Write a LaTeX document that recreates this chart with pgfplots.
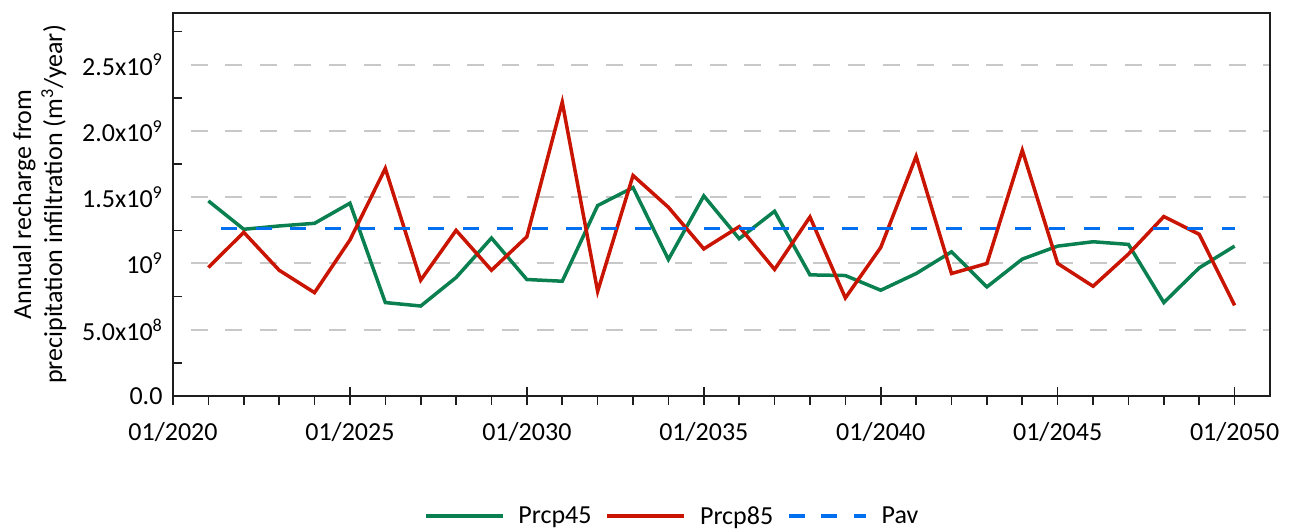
\documentclass[border=0pt]{standalone}
\usepackage{fontspec}
\setmainfont{Carlito}
\usepackage{pgfplots}
\usepackage{pgfplotstable}
\pgfplotsset{compat=1.18}
\definecolor{cgreen}{RGB}{10,128,80}
\definecolor{cred}{RGB}{200,20,0}
\definecolor{cblue}{RGB}{0,112,240}
\definecolor{cgrid}{RGB}{200,200,200}
\definecolor{caxis}{RGB}{30,30,30}
\pgfplotstableread{
year g r
2021 1.472e9 0.970e9
2022 1.258e9 1.235e9
2023 1.283e9 0.949e9
2024 1.303e9 0.780e9
2025 1.455e9 1.177e9
2026 0.705e9 1.717e9
2027 0.679e9 0.874e9
2028 0.894e9 1.250e9
2029 1.192e9 0.949e9
2030 0.879e9 1.202e9
2031 0.866e9 2.217e9
2032 1.437e9 0.790e9
2033 1.573e9 1.664e9
2034 1.030e9 1.424e9
2035 1.510e9 1.110e9
2036 1.187e9 1.278e9
2037 1.394e9 0.955e9
2038 0.914e9 1.351e9
2039 0.909e9 0.740e9
2040 0.798e9 1.121e9
2041 0.924e9 1.808e9
2042 1.088e9 0.924e9
2043 0.823e9 1.000e9
2044 1.033e9 1.854e9
2045 1.131e9 1.000e9
2046 1.164e9 0.828e9
2047 1.144e9 1.071e9
2048 0.705e9 1.354e9
2049 0.967e9 1.220e9
2050 1.131e9 0.684e9
}\datatable
\begin{document}
\begin{tikzpicture}[font=\fontsize{26}{31}\selectfont]
\begin{axis}[
  scale only axis, width=1097pt, height=383pt,
  xmin=2020, xmax=2051, ymin=0, ymax=2.89e9,
  axis line style={caxis, line width=2.2pt},
  xtick={2020,2025,...,2050},
  xticklabels={01/2020,01/2025,01/2030,01/2035,01/2040,01/2045,01/2050},
  minor x tick num=4,
  ytick={0,5e8,1e9,1.5e9,2e9,2.5e9},
  yticklabels={0.0,5.0x10\textsuperscript{8},10\textsuperscript{9},1.5x10\textsuperscript{9},2.0x10\textsuperscript{9},2.5x10\textsuperscript{9}},
  minor ytick={2.5e8,7.5e8,1.25e9,1.75e9,2.25e9,2.75e9},
  scaled y ticks=false,
  xtick pos=bottom, ytick pos=left,
  tick align=inside,
  major tick length=18pt,
  minor tick length=9pt,
  major x tick style={line width=1.6pt, caxis, yshift=-9pt},
  minor x tick style={line width=1.6pt, caxis, yshift=-9pt},
  major y tick style={draw=none},
  minor y tick style={line width=1.6pt, caxis},
  ymajorgrids,
  major grid style={cgrid, line width=2pt, dash pattern=on 17pt off 17.6pt, dash phase=17pt},
  xticklabel style={yshift=-23pt},
  yticklabel style={xshift=-7pt},
  ylabel={Annual recharge from\\precipitation infiltration (m\textsuperscript{3}/year)},
  ylabel style={align=center},
  ylabel shift=9pt,
  legend style={at={(0.455,-0.313)}, anchor=center, draw=none, fill=none,
    legend columns=3,
    /tikz/every even column/.append style={column sep=12pt},
    /tikz/every odd column/.append style={column sep=12pt}},
  legend image code/.code={\draw[#1] (0pt,0pt) -- (77pt,0pt);},
]
\addplot[cgreen, line width=3.5pt] table[x=year, y=g] {\datatable};
\addlegendentry{Prcp45}
\addplot[cred, line width=3.5pt] table[x=year, y=r] {\datatable};
\addlegendentry{Prcp85}
\addplot[cblue, line width=3.5pt, dash pattern=on 16pt off 18.5pt, dash phase=21.5pt,
  legend image post style={dash pattern=on 16pt off 16.5pt, dash phase=0pt}] coordinates {(2021,1.265e9) (2050,1.265e9)};
\addlegendentry{Pav}
\end{axis}
\pgfresetboundingbox
\path[use as bounding box] (-173pt,-134pt) rectangle (1117pt,396pt);
\end{tikzpicture}
\end{document}
